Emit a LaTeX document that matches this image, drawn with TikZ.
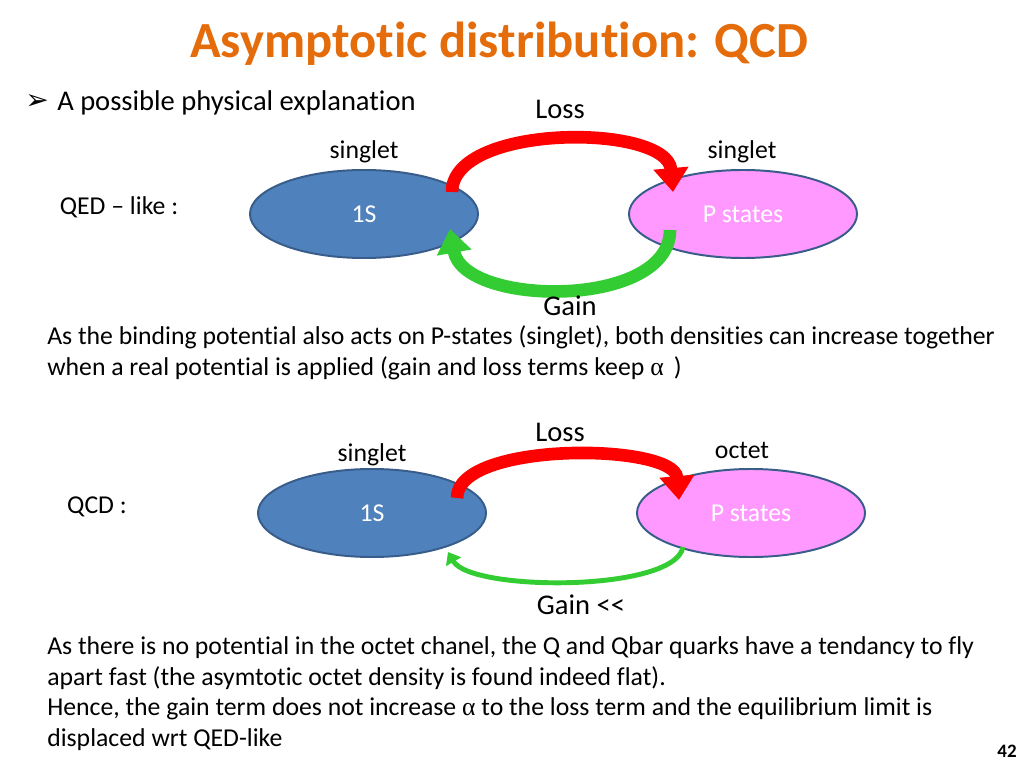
\documentclass[tikz,border=0pt]{standalone}
\usepackage{fontspec}
\setmainfont{Carlito}[Ligatures={NoCommon}]
\newfontfamily\bulletfont{DejaVu Sans}
\newfontfamily\greekfont{Liberation Serif}
\usetikzlibrary{arrows.meta,shapes.geometric,calc}
\definecolor{titleorange}{RGB}{228,108,10}
\definecolor{sblue}{RGB}{79,129,189}
\definecolor{sborder}{RGB}{56,93,138}
\definecolor{ppink}{RGB}{255,153,255}
\definecolor{lossred}{RGB}{255,0,0}
\definecolor{gaingreen}{RGB}{51,204,51}
\tikzset{
  state/.style={ellipse, draw=sborder, line width=1.4pt, minimum width=5.7cm,
    minimum height=2.2cm, inner sep=0pt, text=white, font=\fontsize{18.3}{22}\selectfont},
  txt/.style={inner sep=0pt, font=\fontsize{18.3}{22}\selectfont},
  bigtxt/.style={inner sep=0pt, font=\fontsize{20.3}{24}\selectfont},
  line/.style={txt, anchor=west},
  bigarrow/.style={line width=9pt, -{Triangle[length=17pt,width=24pt]}},
  thinarrow/.style={line width=3.5pt, -{Triangle[length=8pt,width=12pt]}}
}
\begin{document}
\begin{tikzpicture}[x=0.025cm,y=-0.025cm]
  \fill[white] (0,0) rectangle (1024,768);
  \useasboundingbox (0,0) rectangle (1024,768);
  % Title and bullet
  \node[txt, font=\fontsize{36}{40}\bfseries\selectfont, text=titleorange] (title) at (499,44)
    {Asymptotic distribution: QCD};
  \node[txt, anchor=west, font=\fontsize{20}{22}\bulletfont] (bullet) at (25,102) {➢};
  \node[bigtxt, anchor=west] (intro) at (57,103) {A possible physical explanation};
  % QED-like case
  \node[txt] (qedlbl) at (119,207) {QED -- like :};
  \node[state, fill=sblue] (s1) at (364,214) {1S};
  \node[state, fill=ppink] (p1) at (743,214) {P states};
  \node[txt] (sing1) at (364,152) {singlet};
  \node[txt] (sing2) at (742,152) {singlet};
  \node[bigtxt] (loss1) at (560,109) {Loss};
  \draw[bigarrow, lossred] ($(s1.center)+(88,-22)$) to[out=90,in=95,looseness=0.8]
    ($(p1.center)+(-70,-22)$);
  \draw[bigarrow, gaingreen] ($(p1.center)+(-73,16)$) to[out=-90,in=-80,looseness=0.92]
    ($(s1.center)+(86,15)$);
  \node[bigtxt] (gain1) at (570,306) {Gain};
  \node[line] (qedtxt1) at (47,337)
    {As the binding potential also acts on P-states (singlet), both densities can increase together};
  \node[line] (qedtxt2) at (47,368)
    {when a real potential is applied (gain and loss terms keep {\greekfont α}\, )};
  % QCD case
  \node[txt] (qcdlbl) at (97,507) {QCD :};
  \node[state, fill=sblue] (s2) at (372,513) {1S};
  \node[state, fill=ppink] (p2) at (751,513) {P states};
  \node[txt] (sing3) at (372,455) {singlet};
  \node[txt] (octet) at (742,450) {octet};
  \node[bigtxt] (loss2) at (560,432) {Loss};
  \draw[bigarrow, lossred] ($(s2.center)+(85,-15)$) to[out=90,in=95,looseness=0.66]
    ($(p2.center)+(-72,-13)$);
  \draw[thinarrow, gaingreen] ($(p2.center)+(-68,34)$) to[out=-100,in=-60,looseness=0.5]
    ($(s2.center)+(76,39)$);
  \node[bigtxt] (gain2) at (581,605) {Gain <{}<};
  \node[line] (qcdtxt1) at (47,648)
    {As there is no potential in the octet chanel, the Q and Qbar quarks have a tendancy to fly};
  \node[line] (qcdtxt2) at (47,678)
    {apart fast (the asymtotic octet density is found indeed flat).};
  \node[line] (qcdtxt3) at (47,709)
    {Hence, the gain term does not increase {\greekfont α} to the loss term and the equilibrium limit is};
  \node[line] (qcdtxt4) at (47,740) {displaced wrt QED-like};
  \node[txt, font=\fontsize{13.5}{16}\bfseries\selectfont] (pagenum) at (1007,751) {42};
\end{tikzpicture}
\end{document}
